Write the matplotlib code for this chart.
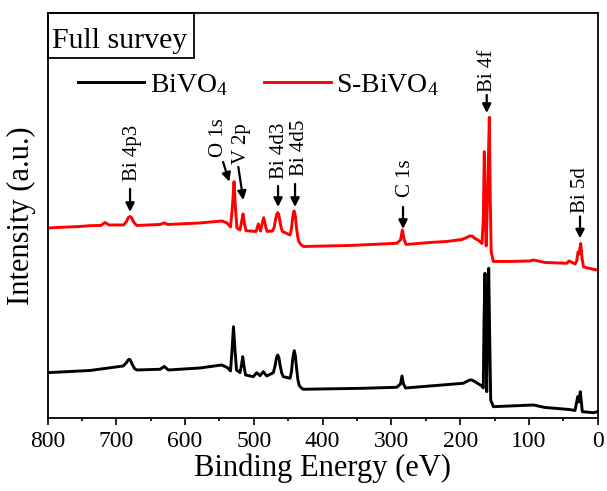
import matplotlib

matplotlib.use("Agg")
import matplotlib.pyplot as plt
from matplotlib.patches import Rectangle
from matplotlib.ticker import MultipleLocator

# binding energy (eV) / intensity (a.u.) vertices
BIVO4_ENERGY = [
    800.0, 738.2, 689.8, 685.1, 682.8, 681.1, 679.3, 677.1, 673.5, 670.3,
    636.4, 630.2, 624.4, 578.3, 546.7, 537.5, 533.9, 531.7, 529.6, 527.4,
    525.2, 520.1, 517.9, 516.2, 514.3, 512.1, 500.8, 495.8, 491.0, 486.2,
    481.3, 471.7, 469.5, 467.0, 465.3, 463.6, 461.9, 459.5, 457.1, 447.4,
    445.5, 443.0, 441.2, 439.6, 437.9, 436.0, 434.0, 431.0, 428.1, 340.8,
    292.2, 286.7, 284.6, 282.4, 279.5, 243.8, 195.4, 190.5, 186.0, 183.2,
    179.0, 175.5, 168.3, 166.4, 165.3, 163.9, 162.7, 161.4, 160.0, 158.5,
    157.0, 155.6, 151.8, 127.5, 93.6, 76.6, 41.7, 33.0, 29.1, 27.2,
    25.3, 22.4, 6.4, 0.0,
]
BIVO4_INTENSITY = [
    45.8, 48.0, 52.5, 56.0, 58.5, 59.2, 58.0, 54.5, 50.0, 48.5,
    49.2, 52.0, 48.5, 50.5, 53.5, 50.5, 47.5, 68.5, 91.8, 68.5,
    48.5, 45.8, 53.5, 61.8, 52.5, 43.5, 41.8, 45.8, 42.8, 46.8,
    42.5, 45.8, 51.5, 61.0, 63.5, 61.0, 53.5, 45.5, 41.8, 40.2,
    46.0, 62.0, 67.8, 62.5, 50.5, 39.0, 33.0, 30.5, 29.2, 30.2,
    31.2, 34.5, 42.5, 34.5, 30.5, 32.5, 35.2, 37.0, 38.5, 38.5,
    37.0, 35.5, 32.5, 30.5, 98.5, 145.2, 88.5, 26.8, 98.5, 150.2,
    78.5, 18.5, 11.8, 12.5, 13.5, 11.0, 9.0, 8.0, 21.8, 16.5,
    26.8, 6.8, 5.8, 6.8,
]

S_BIVO4_ENERGY = [
    800.0, 752.7, 738.2, 722.2, 716.4, 710.6, 689.3, 685.1, 682.5, 680.0,
    677.5, 675.7, 672.0, 669.9, 636.4, 630.6, 624.8, 578.3, 546.3, 539.0,
    533.9, 531.0, 528.8, 526.6, 524.5, 520.1, 517.9, 515.7, 513.6, 511.4,
    496.8, 493.5, 490.3, 488.1, 485.6, 483.0, 480.8, 472.8, 470.5, 468.5,
    466.8, 465.3, 463.8, 461.9, 460.0, 458.3, 447.4, 445.5, 443.5, 442.3,
    441.6, 440.7, 439.5, 437.9, 436.0, 434.3, 431.0, 427.8, 360.1, 292.2,
    286.7, 284.1, 281.3, 278.7, 243.8, 219.6, 197.3, 190.5, 186.0, 182.8,
    178.5, 174.1, 168.3, 166.4, 164.9, 163.5, 162.2, 160.3, 157.6, 156.2,
    154.9, 151.8, 127.5, 98.4, 93.6, 76.6, 45.1, 41.7, 33.0, 30.5,
    28.6, 27.2, 24.7, 22.8, 20.6, 6.4, 0.0,
]
S_BIVO4_INTENSITY = [
    190.5, 192.0, 192.8, 193.0, 196.0, 193.5, 193.5, 197.0, 201.0, 202.0,
    200.5, 197.5, 194.0, 193.0, 194.0, 195.5, 194.0, 195.5, 197.5, 195.5,
    191.5, 213.5, 236.8, 208.5, 190.5, 188.5, 196.5, 204.5, 194.5, 187.8,
    187.0, 194.5, 187.5, 194.5, 200.8, 192.5, 187.0, 187.5, 191.0, 198.5,
    204.0, 205.8, 204.0, 196.5, 190.0, 187.0, 183.5, 189.0, 201.0, 206.0,
    207.5, 206.0, 201.0, 190.0, 181.0, 176.5, 173.5, 172.0, 173.0, 175.2,
    178.5, 188.5, 178.5, 174.0, 176.0, 177.0, 179.0, 181.0, 182.5, 182.5,
    180.0, 178.5, 175.0, 198.5, 266.8, 203.5, 172.5, 218.5, 301.2, 218.5,
    166.5, 157.0, 157.0, 157.5, 158.5, 156.0, 155.2, 157.5, 154.5, 157.5,
    166.5, 164.5, 175.0, 160.5, 151.5, 149.2, 148.5,
]

SERIES_LABELS = [r"$\mathregular{BiVO_4}$", r"$\mathregular{S\text{-}BiVO_4}$"]
SERIES_COLORS = ["black", "#FF0000"]

# peak label, arrow tip, arrow tail, text anchor (energy, intensity)
PEAK_LABELS = [
    ("Bi 4p3", (680.0, 206.5), (680.0, 229.5), (676.4, 237.5)),
    ("O 1s", (535.7, 236.8), (544.8, 256.5), (551.4, 261.5)),
    ("V 2p", (515.3, 218.5), (522.6, 251.5), (518.6, 254.5)),
    ("Bi 4d3", (464.8, 211.5), (464.8, 232.5), (462.7, 239.5)),
    ("Bi 4d5", (440.1, 211.5), (440.1, 234.5), (433.6, 242.5)),
    ("C 1s", (283.1, 189.5), (283.1, 211.5), (279.5, 221.5)),
    ("Bi 4f", (161.4, 305.5), (161.4, 323.5), (160.9, 326.5)),
    ("Bi 5d", (25.7, 180.0), (25.7, 202.0), (25.0, 205.5)),
]

FONT = ["Liberation Serif", "DejaVu Serif"]


def main() -> None:
    plt.rcParams.update(
        {
            "font.family": FONT,
            "mathtext.fontset": "custom",
            "mathtext.rm": "Liberation Serif",
            "mathtext.it": "Liberation Serif:italic",
            "font.size": 17,
        }
    )

    fig = plt.figure(figsize=(6.07, 4.91), dpi=100)
    ax = fig.add_axes([0.0783, 0.1477, 0.9064, 0.8259])

    ax.plot(BIVO4_ENERGY, BIVO4_INTENSITY, color=SERIES_COLORS[0], lw=2.1,
            label=SERIES_LABELS[0], solid_joinstyle="round")
    ax.plot(S_BIVO4_ENERGY, S_BIVO4_INTENSITY, color=SERIES_COLORS[1], lw=2.1,
            label=SERIES_LABELS[1], solid_joinstyle="round")

    for label, tip, tail, text_pos in PEAK_LABELS:
        ax.annotate(
            "", xy=tip, xytext=tail,
            arrowprops=dict(arrowstyle="-|>", color="black", lw=1.6,
                            mutation_scale=13, shrinkA=0, shrinkB=0),
        )
        ax.text(text_pos[0], text_pos[1], label, rotation=90,
                ha="center", va="bottom", fontsize=15)

    ax.set_xlim(800, 0)
    ax.set_ylim(0, 405.5)
    ax.xaxis.set_major_locator(MultipleLocator(100))
    ax.xaxis.set_minor_locator(MultipleLocator(50))
    ax.tick_params(axis="x", which="major", direction="out", length=5,
                   width=1.2, labelsize=17, pad=4)
    ax.tick_params(axis="x", which="minor", direction="out", length=2.5, width=1.2)
    ax.set_yticks([])
    for spine in ax.spines.values():
        spine.set_linewidth(1.3)

    ax.set_xlabel("Binding Energy (eV)", fontsize=22, labelpad=1)
    ax.set_ylabel("Intensity (a.u.)", fontsize=22, labelpad=8)

    ax.add_patch(Rectangle((0, 0.889), 0.266, 0.111, transform=ax.transAxes,
                           fill=False, edgecolor="black", lw=1.3, clip_on=False))
    ax.text(0.009, 0.913, "Full survey", transform=ax.transAxes,
            ha="left", va="baseline", fontsize=21.5)

    ax.legend(
        loc="center left",
        bbox_to_anchor=(0.0545, 0.822),
        ncol=2,
        frameon=False,
        fontsize=20,
        handlelength=2.4,
        handletextpad=0.2,
        columnspacing=1.3,
        borderpad=0,
        borderaxespad=0,
    )

    fig.savefig("out.png", dpi=100)
    plt.close(fig)


if __name__ == "__main__":
    main()
